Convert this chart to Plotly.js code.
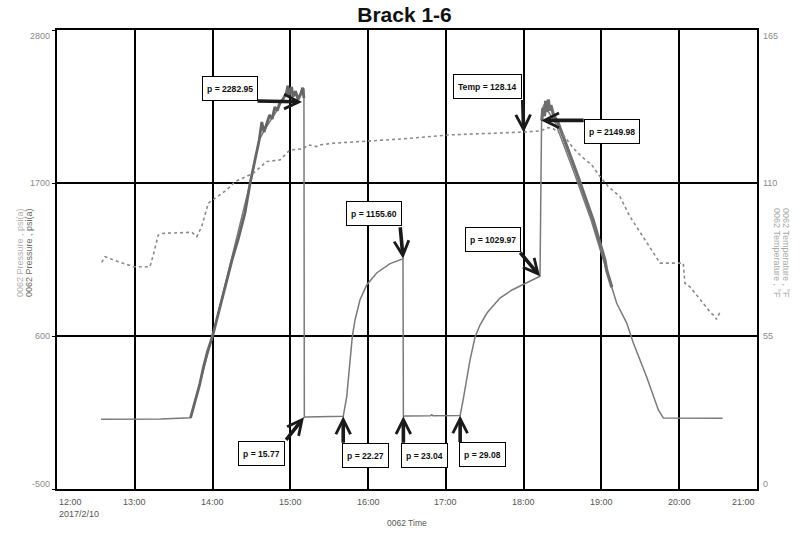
<!DOCTYPE html>
<html>
<head>
<meta charset="utf-8">
<script src="https://cdn.plot.ly/plotly-3.0.1.min.js"></script>
<style>
  html, body { margin: 0; padding: 0; background: #fff; }
  #chart { width: 809px; height: 539px; }
</style>
</head>
<body>
<div id="chart"></div>
<script>
// ---------------- data ----------------
const DAY = '2017-02-10 ';

// Pressure series A (thin, complete record)
const pressTimeA = ['12:34:00','13:00:00','13:20:00','13:43:00','14:00:00','14:29:00','14:33:00','14:36:00','14:40:00','14:46:00',
  '14:50:00','14:54:00','14:58:00','15:02:00','15:06:00','15:10:30',
  '15:10:48','15:12:00','15:25:00','15:40:48',
  '15:43:30','15:45:18','15:47:48','15:49:54','15:53:42','15:58:54','16:06:36','16:16:54','16:26:54',
  '16:27:12','16:29:00','16:48:00','16:49:00','16:50:00','17:00:00','17:11:00',
  '17:13:18','17:16:00','17:18:36','17:22:30','17:26:18','17:31:42','17:41:42','17:51:00','18:00:00','18:12:36',
  '18:13:54','18:14:30','18:16:00','18:18:00','18:20:00','18:24:30','18:39:00','18:52:00','19:01:30','19:04:00',
  '19:11:42','19:19:30','19:24:36','19:34:54','19:43:54','19:47:48','20:33:30'];
const pressA = [2, 2, 4, 12, 600, 1700, 1865, 2009, 2080, 2170,
  2225, 2297, 2360, 2340, 2320, 2380,
  15.77, 18, 20, 22.27,
  163, 355, 595, 715, 859, 967, 1053, 1120, 1155.6,
  23.04, 25, 26, 34, 27, 28, 29.08,
  140, 284, 427, 593, 679, 765, 873, 931, 974, 1029.97,
  2225, 2240, 2265, 2230, 2200, 2131, 1772, 1434, 1146, 1074,
  837, 693, 550, 305, 68, 10, 8];

// Pressure series B (noisy, heavy trace during the pressure-up ramp)
const pressTimeB = ['13:43:00','13:47:00','13:50:00','13:53:00','13:56:00','14:00:00','14:05:00','14:10:00','14:15:00','14:20:00',
  '14:25:00','14:29:00','14:33:00','14:36:00','14:38:00','14:39:42','14:44:00','14:46:00','14:48:00','14:50:00',
  '14:52:00','14:54:00','14:57:00','14:58:00','14:59:00','15:01:00','15:02:00','15:04:00','15:06:00','15:08:00',
  '15:09:30','15:10:30'];
const pressB = [12, 140, 248, 377, 485, 600, 787, 981, 1146, 1304,
  1484, 1700, 1865, 2009, 2139, 2067, 2189, 2160, 2246, 2220,
  2282, 2297, 2347, 2400, 2330, 2390, 2320, 2360, 2300, 2340,
  2385, 2310];
// Pressure series B (heavy trace during the bleed-down)
const pressTimeC = ['18:14:00','18:15:00','18:16:00','18:17:00','18:18:00','18:19:00','18:20:00','18:21:00','18:23:00','18:26:36',
  '18:40:54','18:53:36','19:02:42','19:04:00','19:08:00'];
const pressC = [2150, 2240, 2180, 2290, 2210, 2300, 2220, 2260, 2190, 2131,
  1772, 1434, 1146, 1074, 950];

// Temperature series (right axis)
const tempTime = ['12:34:30','12:37:00','12:48:00','12:59:00','13:11:42','13:14:18','13:18:06','13:22:00','13:44:00','13:47:48',
  '13:51:36','13:56:40','14:10:54','14:17:18','14:31:24','14:41:42','14:52:00','14:59:42','15:10:00','15:13:54',
  '15:20:18','15:22:54','15:33:12','16:24:36','17:03:18','17:41:42','17:59:42','18:12:36','18:19:00','18:23:00',
  '18:26:00','18:30:36','18:38:18','18:44:42','18:52:30','18:58:54','19:05:18','19:14:18','19:22:00','19:33:36',
  '19:45:12','20:03:06','20:04:24','20:08:18','20:18:36','20:23:42','20:27:36','20:28:48','20:32:00'];
const tempVals = [81.5, 83.5, 81.6, 79.9, 79.9, 84.1, 91.3, 91.9, 92.3, 90.7,
  94.3, 102.7, 107.5, 110.5, 113.5, 117.7, 118.3, 121.9, 122.3, 123.7,
  123.1, 123.7, 124.3, 125.8, 127.3, 127.9, 128.3, 128.7, 129.9, 129.5,
  128.4, 127.3, 122.5, 119.5, 116.5, 112.3, 108.7, 105.1, 97.9, 89.6,
  81.2, 81.2, 73.9, 72.7, 66.8, 63.7, 61.9, 61.0, 64.1];

// Axis ticks
const xTickVals = ['12:00','13:00','14:00','15:00','16:00','17:00','18:00','19:00','20:00','21:00'];
const xTickText = ['12:00<br>2017/2/10','13:00','14:00','15:00','16:00','17:00','18:00','19:00','20:00','21:00'];
const pTickVals = [-500, 600, 1700, 2800];
const tTickVals = [0, 55, 110, 165];

// Callouts
const calloutTime = ['15:09:00','16:27:00','18:00:00','18:13:30','18:12:36','15:10:30','15:40:48','16:27:12','17:11:00'];
const calloutVal  = [2282.95, 1155.60, 128.14, 2149.98, 1029.97, 15.77, 22.27, 23.04, 29.08];
const calloutText = ['p = 2282.95','p = 1155.60','Temp = 128.14','p = 2149.98','p = 1029.97','p = 15.77','p = 22.27','p = 23.04','p = 29.08'];
const calloutAxis = ['y','y','y2','y','y','y','y','y','y'];

// ---------------- layout / style ----------------
const T = s => DAY + s;
const arrowTail = [[-46,-1],[-3,-33],[-1,-34],[44,0],[-21,-25],[-19,24],[0,28],[0,28],[0,28]];
const boxShift  = [[-72.5,13.4],[-29.5,45.7],[-36.5,46],[70.8,-10.6],[-47.5,36.7],[-42,-36.3],[22.2,-39.2],[21.2,-39.3],[22.3,-39]];

const traces = [
  { x: tempTime.map(T), y: tempVals, yaxis: 'y2', mode: 'lines',
    line: { color: '#8a8a8a', width: 1.6, dash: 'dot' }, name: '0062 Temperature', hoverinfo: 'skip' },
  { x: pressTimeA.map(T), y: pressA, mode: 'lines',
    line: { color: '#7a7a7a', width: 1.5 }, name: '0062 Pressure A', hoverinfo: 'skip' },
  { x: pressTimeB.map(T), y: pressB, mode: 'lines',
    line: { color: '#666666', width: 2.8 }, name: '0062 Pressure B', hoverinfo: 'skip' },
  { x: pressTimeC.map(T), y: pressC, mode: 'lines',
    line: { color: '#6e6e6e', width: 3.2 }, name: '0062 Pressure B2', hoverinfo: 'skip' }
];

const NARROW = '"Liberation Sans Narrow", "Liberation Sans", Arial, sans-serif';
const SANS = '"Liberation Sans", Arial, sans-serif';
const TICKFONT = { family: SANS, size: 9, color: '#8a8a8a' };

const annotations = [];
// arrows
calloutTime.forEach((t, i) => {
  annotations.push({
    x: T(t), y: calloutVal[i], xref: 'x', yref: calloutAxis[i],
    text: '', showarrow: true, arrowhead: 5, arrowsize: 0.8, arrowwidth: 3.6,
    arrowcolor: '#1a1a1a', ax: arrowTail[i][0], ay: arrowTail[i][1], standoff: 0
  });
});
// boxes
calloutTime.forEach((t, i) => {
  annotations.push({
    x: T(t), y: calloutVal[i], xref: 'x', yref: calloutAxis[i],
    text: '<b>' + calloutText[i] + '</b>', showarrow: false,
    xshift: boxShift[i][0], yshift: boxShift[i][1], height: 15,
    bgcolor: '#ffffff', bordercolor: '#000000', borderwidth: 1, borderpad: 4,
    font: { family: NARROW, size: 8.6, color: '#111' }
  });
});
// x tick labels
xTickVals.forEach((v, i) => {
  const first = i === 0, last = i === xTickVals.length - 1;
  annotations.push({
    x: T(v), y: 0, xref: 'x', yref: 'paper', yanchor: 'top', yshift: -6,
    xanchor: first ? 'left' : (last ? 'right' : 'center'), align: first ? 'left' : 'center',
    text: xTickText[i], showarrow: false,
    font: { family: SANS, size: 9, color: '#555' }
  });
});
// y tick labels (end labels kept inside the frame, as in the reference)
pTickVals.forEach((v, i) => {
  const sh = i === 0 ? 5 : (i === pTickVals.length - 1 ? -6 : 0);
  annotations.push({ x: 0, y: v, xref: 'paper', yref: 'y', xanchor: 'right', xshift: -5, yshift: sh,
    text: String(v), showarrow: false, font: TICKFONT });
});
tTickVals.forEach((v, i) => {
  const sh = i === 0 ? 5 : (i === tTickVals.length - 1 ? -6 : 0);
  annotations.push({ x: 1, y: v, xref: 'paper', yref: 'y2', xanchor: 'left', xshift: 4, yshift: sh,
    text: String(v), showarrow: false, font: TICKFONT });
});
// axis titles
annotations.push({ x: 0.5, y: -0.0893, xref: 'paper', yref: 'paper', text: '0062 Time', showarrow: false,
  font: { family: SANS, size: 8.5, color: '#555' } });
annotations.push({ x: 13, y: 0.514, xref: 'paper', yref: 'paper', text: '0062 Pressure , psi(a)', showarrow: false,
  textangle: -90, font: { family: SANS, size: 9, color: '#b0b0b0' } });
annotations.push({ x: 22, y: 0.514, xref: 'paper', yref: 'paper', text: '0062 Pressure , psi(a)', showarrow: false,
  textangle: -90, font: { family: SANS, size: 9, color: '#6a6a6a' } });
annotations.push({ x: 793, y: 0.514, xref: 'paper', yref: 'paper', text: '0062 Temperature , °F', showarrow: false,
  textangle: 90, font: { family: SANS, size: 9, color: '#a8a8a8' } });
annotations.push({ x: 784, y: 0.514, xref: 'paper', yref: 'paper', text: '0062 Temperature , °F', showarrow: false,
  textangle: 90, font: { family: SANS, size: 9, color: '#a8a8a8' } });
// convert pixel x of title annotations to paper units
const ML = 57, MR = 52, W = 809, H = 539;
annotations.forEach(a => { if (a.xref === 'paper' && a.x > 1) a.x = (a.x - ML) / (W - ML - MR); });

const layout = {
  width: W, height: H,
  margin: { l: ML, r: MR, t: 30, b: 50 },
  paper_bgcolor: '#ffffff', plot_bgcolor: '#ffffff',
  showlegend: false,
  title: { text: '<b>Brack 1-6</b>', x: 0.5, xanchor: 'center', y: 1 - 15 / H, yanchor: 'middle', yref: 'container',
    font: { family: SANS, size: 21, color: '#111' } },
  xaxis: {
    type: 'date', range: [T('12:00'), T('21:00')],
    tickvals: xTickVals.map(T), showticklabels: false, ticks: '',
    showgrid: true, gridcolor: '#000', gridwidth: 2,
    showline: true, linecolor: '#000', linewidth: 2, mirror: true, zeroline: false
  },
  yaxis: {
    range: [-500, 2800], tickvals: pTickVals, showticklabels: false,
    showgrid: true, gridcolor: '#000', gridwidth: 2, zeroline: false,
    showline: true, linecolor: '#000', linewidth: 2, mirror: true,
    ticks: 'outside', ticklen: 3, tickcolor: '#000', tickwidth: 1
  },
  yaxis2: {
    range: [0, 165], tickvals: tTickVals, showticklabels: false,
    overlaying: 'y', side: 'right', showgrid: false, zeroline: false, ticks: ''
  },
  annotations: annotations
};

Plotly.newPlot('chart', traces, layout, { staticPlot: true, displayModeBar: false });
</script>
</body>
</html>
